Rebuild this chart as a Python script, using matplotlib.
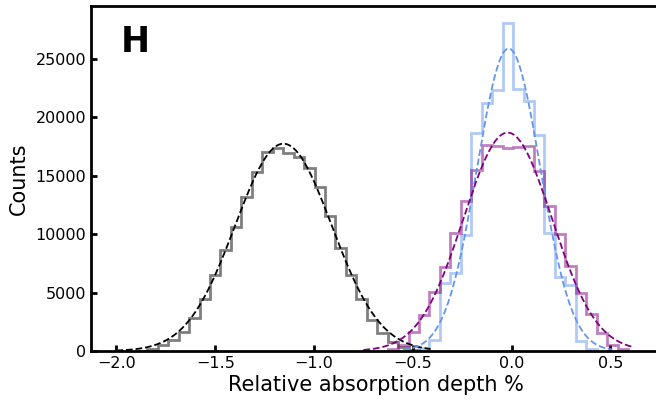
import numpy as np
import matplotlib
matplotlib.use("Agg")
import matplotlib.pyplot as plt

# shared bin grid
bin_start = -1.897
bin_width = 0.0529

# black / gray histogram counts, first bin starts at bin_start
black_counts = [40, 150, 510, 940, 1650, 2800, 4420, 6500, 8650, 10640,
                13210, 15350, 17010, 17350, 16925, 16640, 15640, 14070,
                11560, 8790, 6510, 4420, 2650, 1570, 800, 350, 120, 30]
black_first = 0

# blue histogram, first bin index on the grid
blue_counts = [250, 940, 5800, 6650, 9900, 18700, 21260, 22350, 28110,
               22430, 21430, 18490, 10130, 6360, 5650, 880, 200]
blue_first = 27

# purple histogram
purple_counts = [150, 510, 1650, 3080, 5080, 7220, 10080, 12870, 15500,
                 17640, 17550, 17350, 17450, 17550, 15440, 12420, 10020,
                 7300, 4940, 3170, 1570, 510, 150]
purple_first = 24

# gaussian fits: amplitude, centre, sigma, x range
black_fit = [17750, -1.155, 0.244]
black_fit_range = [-2.0, -0.41]
blue_fit = [25900, -0.015, 0.160]
blue_fit_range = [-0.55, 0.51]
purple_fit = [18700, -0.02, 0.224]
purple_fit_range = [-0.75, 0.62]


def edges_for(first, counts):
    return bin_start + bin_width * np.arange(first, first + len(counts) + 1)


def gauss(x, a, mu, sig):
    return a * np.exp(-0.5 * ((x - mu) / sig) ** 2)


fig = plt.figure(figsize=(6.56, 4.03), dpi=100)
ax = fig.add_axes([91 / 656, 1 - 351 / 403, (660 - 91) / 656, (351 - 6) / 403])

hists = [(black_first, black_counts, "k"),
         (blue_first, blue_counts, "cornflowerblue"),
         (purple_first, purple_counts, "purple")]
for first, counts, col in hists:
    e = edges_for(first, counts)
    ax.hist(e[:-1], bins=e, weights=counts, histtype="step",
            color=col, alpha=0.5, lw=2)

fits = [(black_fit, black_fit_range, "k"),
        (blue_fit, blue_fit_range, "cornflowerblue"),
        (purple_fit, purple_fit_range, "purple")]
for p, rng, col in fits:
    xs = np.linspace(rng[0], rng[1], 300)
    ax.plot(xs, gauss(xs, *p), "--", color=col, lw=1.3)

ax.set_xlim(-2.129, 0.751)
ax.set_ylim(0, 29540)
ax.set_xticks([-2.0, -1.5, -1.0, -0.5, 0.0, 0.5])
ax.set_yticks([0, 5000, 10000, 15000, 20000, 25000])
ax.tick_params(direction="in", length=4, width=2, labelsize=11.5)
for s in ax.spines.values():
    s.set_linewidth(2)

ax.set_xlabel("Relative absorption depth %", fontsize=15, labelpad=3)
ax.set_ylabel("Counts", fontsize=15, labelpad=5)
ax.text(0.052, 0.945, "H", transform=ax.transAxes, fontsize=25,
        fontweight="bold", va="top", ha="left")

fig.savefig("out.png", dpi=100)
